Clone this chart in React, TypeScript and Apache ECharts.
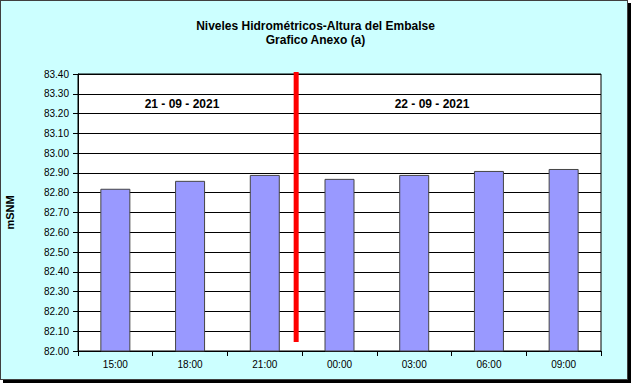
import React, { useEffect, useRef } from "react";
import * as echarts from "echarts";

const categories = ["15:00", "18:00", "21:00", "00:00", "03:00", "06:00", "09:00"];
const levels = [82.82, 82.86, 82.89, 82.87, 82.89, 82.91, 82.92];
const dayLabels = ["21 - 09 - 2021", "22 - 09 - 2021"];
const dividerX = 2.92; // position on category scale (0..7)
const dividerY = [82.045, 83.41];

export default function App() {
  const ref = useRef<HTMLDivElement>(null);
  useEffect(() => {
    if (!ref.current) return;
    const chart = echarts.init(ref.current, null, { renderer: "svg" });
    const font = "Arial, 'Liberation Sans', sans-serif";
    const narrow = "'Liberation Sans Narrow', 'Arial Narrow', Arial, sans-serif";
    chart.setOption({
      animation: false,
      backgroundColor: "transparent",
      title: {
        text: "Niveles Hidrométricos-Altura del Embalse\nGrafico Anexo (a)",
        left: "center",
        top: 14,
        textStyle: { fontFamily: narrow, fontSize: 12, fontWeight: "bold", color: "#000", lineHeight: 14 },
      },
      grid: {
        left: 78, top: 74, width: 523, height: 277,
        containLabel: false,
        outerBoundsMode: "none",
        show: true, backgroundColor: "#fff", borderColor: "#000", borderWidth: 1,
      },
      xAxis: [
        {
          type: "category",
          data: categories,
          boundaryGap: true,
          axisLine: { lineStyle: { color: "#000", width: 1 } },
          axisTick: { show: true, length: 5, lineStyle: { color: "#000" } },
          axisLabel: { fontFamily: font, fontSize: 10, color: "#000", margin: 8 },
          splitLine: { show: false },
        },
        { type: "value", min: 0, max: 7, show: false },
      ],
      yAxis: {
        type: "value",
        min: 82.0,
        max: 83.4,
        interval: 0.1,
        name: "mSNM",
        nameLocation: "middle",
        nameRotate: 90,
        nameGap: 63,
        nameTextStyle: { fontFamily: narrow, fontSize: 11, fontWeight: "bold", color: "#000" },
        axisLine: { show: true, lineStyle: { color: "#000" } },
        axisTick: { show: true, length: 5, inside: false, lineStyle: { color: "#000" } },
        axisLabel: {
          fontFamily: font, fontSize: 10, color: "#000", margin: 9,
          formatter: (v: number) => v.toFixed(2),
        },
        splitLine: { show: true, lineStyle: { color: "#000", width: 1 } },
      },
      series: [
        {
          type: "bar",
          data: levels,
          barWidth: 30,
          itemStyle: { color: "#9999FF", borderColor: "#444", borderWidth: 1 },
        },
        {
          type: "line",
          xAxisIndex: 1,
          clip: false,
          symbol: "none",
          data: [[dividerX, dividerY[0]], [dividerX, dividerY[1]]],
          lineStyle: { color: "#FF0000", width: 5, cap: "butt" },
          z: 5,
        },
      ],
      graphic: [
        {
          type: "text", x: 182, y: 104,
          style: { text: dayLabels[0], fontFamily: font, fontSize: 12, fontWeight: "bold", fill: "#000", align: "center", verticalAlign: "middle" },
        },
        {
          type: "text", x: 432, y: 104,
          style: { text: dayLabels[1], fontFamily: font, fontSize: 12, fontWeight: "bold", fill: "#000", align: "center", verticalAlign: "middle" },
        },
      ],
    });
    return () => chart.dispose();
  }, []);

  return (
    <div style={{ position: "fixed", left: 0, top: 0, width: 631, height: 383, background: "#fff" }}>
      <div style={{ position: "absolute", left: 3, top: 3, width: 628, height: 380, background: "#000" }} />
      <div style={{ position: "absolute", left: 0, top: 0, width: 628, height: 380, boxSizing: "border-box", border: "1px solid #404040", background: "#CCFFFF" }} />
      <div ref={ref} style={{ position: "absolute", left: 0, top: 0, width: 631, height: 383 }} />
    </div>
  );
}
